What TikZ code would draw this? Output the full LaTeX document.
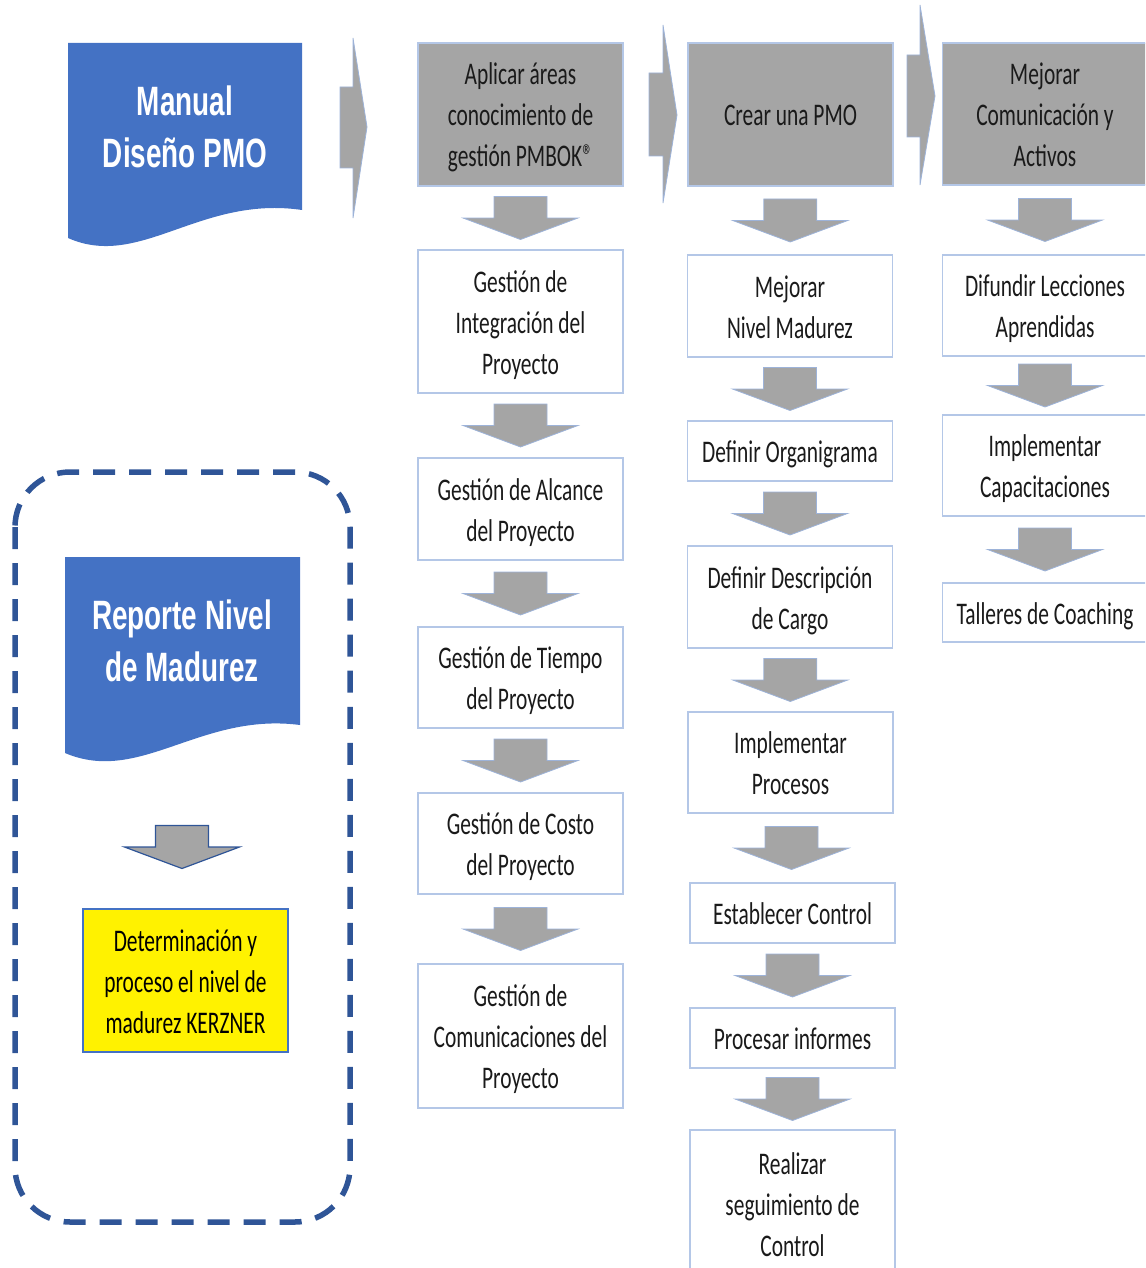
\documentclass[tikz,border=0pt]{standalone}
\usepackage{fontspec}
\setmainfont{Carlito}[FakeStretch=0.68]
\newfontfamily\titlefamily{Liberation Sans}[FakeStretch=0.68]
\usetikzlibrary{calc}

\definecolor{docblue}{HTML}{4472C4}
\definecolor{headgray}{HTML}{A5A5A5}
\definecolor{boxline}{HTML}{B4C7E7}
\definecolor{arrowline}{HTML}{9DB3D9}
\definecolor{panelblue}{HTML}{2F5597}
\definecolor{inktext}{HTML}{1A1A1A}

\newcommand\bodyfont{\fontsize{31.5}{41}\selectfont}
\newcommand\titlefont{\titlefamily\bfseries\fontsize{41}{52}\selectfont}
% fixed height for the first line of a step
\newcommand\ls{\rule{0pt}{32pt}}

\tikzset{
  stepbox/.style={draw=boxline, line width=1.6, fill=white, minimum width=205,
    minimum height=#1, inner sep=0, align=center, font=\bodyfont, text=inktext,
    text depth=9pt},
  headbox/.style={stepbox=#1, fill=headgray},
  keybox/.style={stepbox=#1, draw=docblue, fill=yellow, text=black},
  titletext/.style={align=center, font=\titlefont, text=white, inner sep=0},
  chev/.style={fill=headgray, draw=arrowline, line width=0.8},
  arrowstyle/.style={fill=headgray, draw=arrowline, line width=0.8},
  darrow/.pic={\draw[arrowstyle] (-26.5,-21.5) -- (26.5,-21.5) -- (26.5,0) -- (57.5,0)
    -- (0,21.5) -- (-57.5,0) -- (-26.5,0) -- cycle;},
  panel/.style={draw=panelblue, line width=5.5, dash pattern=on 22 off 14,
    rounded corners=55}
}

\begin{document}
\begin{tikzpicture}[x=1pt,y=-1pt]
\useasboundingbox (0,0) rectangle (1145,1268);
\clip (0,0) rectangle (1145,1268);

% design manual (document shape)
\fill[docblue] (68,43) -- (302,43) -- (302,210)
  .. controls (200,195) and (140,270) .. (68,238) -- cycle;
\node[titletext] (manual) at (185,127) {Manual\\Diseño PMO};

% phase chevrons
\draw[chev] (340,87) -- (353,87) -- (353,38) -- (367,127) -- (353,218) -- (353,168) -- (340,168) -- cycle;
\draw[chev] (649,73) -- (663,73) -- (663,25) -- (677,115) -- (663,203) -- (663,156) -- (649,156) -- cycle;
\draw[chev] (907,55) -- (920,55) -- (920,5) -- (935,96) -- (920,185) -- (920,137) -- (907,137) -- cycle;

% phase headers
\node[headbox=143] (h1) at (520.5,114.5) {\ls Aplicar áreas\\conocimiento de\\gestión PMBOK®};
\node[headbox=143] (h2) at (790.5,114.5) {\ls Crear una PMO};
\node[headbox=142] (h3) at (1045,114) {\ls Mejorar\\Comunicación y\\Activos};

% column 1: PMBOK knowledge areas
\node[stepbox=143] (a1) at (520.5,321.5) {\ls Gestión de\\Integración del\\Proyecto};
\node[stepbox=102] (a2) at (520.5,509) {\ls Gestión de Alcance\\del Proyecto};
\node[stepbox=101] (a3) at (520.5,677.5) {\ls Gestión de Tiempo\\del Proyecto};
\node[stepbox=101] (a4) at (520.5,843.5) {\ls Gestión de Costo\\del Proyecto};
\node[stepbox=144] (a5) at (520.5,1036) {\ls Gestión de\\Comunicaciones del\\Proyecto};

% column 2: PMO creation
\node[stepbox=102] (b1) at (790,306) {\ls Mejorar\\Nivel Madurez};
\node[stepbox=60]  (b2) at (790,451) {\ls Definir Organigrama};
\node[stepbox=102] (b3) at (790,597) {\ls Definir Descripción\\de Cargo};
\node[stepbox=101] (b4) at (790.5,762.5) {\ls Implementar\\Procesos};
\node[stepbox=60]  (b5) at (792.5,913) {\ls Establecer Control};
\node[stepbox=60]  (b6) at (792.5,1038) {\ls Procesar informes};
\node[stepbox=148] (b7) at (792.5,1204) {\ls Realizar\\seguimiento de\\Control};

% column 3: communication and assets
\node[stepbox=101] (c1) at (1045,305.5) {\ls Difundir Lecciones\\Aprendidas};
\node[stepbox=101] (c2) at (1045,465.5) {\ls Implementar\\Capacitaciones};
\node[stepbox=59]  (c3) at (1045,612.5) {\ls Talleres de Coaching};

% block arrows between consecutive steps
\foreach \u/\v in {h1/a1,a1/a2,a2/a3,a3/a4,a4/a5,
                   h2/b1,b1/b2,b2/b3,b3/b4,b4/b5,b5/b6,b6/b7,
                   h3/c1,c1/c2,c2/c3}
  \pic at ($(\u.south)!0.5!(\v.north)$) {darrow};

% maturity report panel
\draw[panel] (15,472) rectangle (350,1222);
\fill[docblue] (65,557) -- (300,557) -- (300,725)
  .. controls (200,712) and (140,785) .. (65,753) -- cycle;
\node[titletext] (report) at (182,641) {Reporte Nivel\\de Madurez};
\node[keybox=143] (kerzner) at (185.5,980.5) {\ls Determinación y\\proceso el nivel de\\madurez KERZNER};
\pic[arrowstyle/.append style={draw=panelblue, line width=1.2}] at (182,847) {darrow};
\end{tikzpicture}
\end{document}
